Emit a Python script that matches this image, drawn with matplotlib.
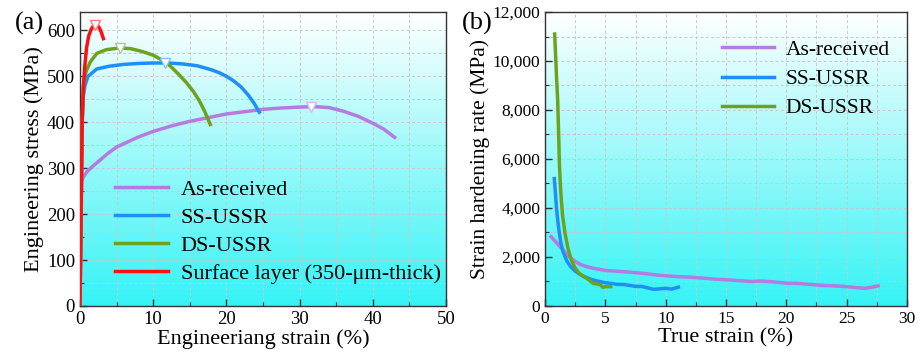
import numpy as np
import matplotlib
matplotlib.use("Agg")
import matplotlib.pyplot as plt
from matplotlib.colors import LinearSegmentedColormap, to_rgb
from matplotlib.ticker import MultipleLocator, FuncFormatter

plt.rcParams['font.family'] = ['Liberation Serif', 'DejaVu Serif']
plt.rcParams['mathtext.fontset'] = 'stix'

# (a) engineering stress-strain curves
ar_strain = [0, 0.12, 0.2, 0.23, 0.5, 1.0, 1.8, 2.7, 3.8, 5, 6.5, 8, 10, 12.5, 15, 17.5, 20,
             22.5, 25, 27.5, 30, 32, 34, 36, 38, 40, 41.5, 43]
ar_stress = [0, 120, 230, 272, 282, 293, 305, 317, 332, 346, 357, 368, 380, 392, 402, 410, 418,
             423, 428, 431, 433, 434, 432, 424, 413, 398, 385, 367]
ss_strain = [0, 0.15, 0.3, 0.45, 0.68, 1.1, 2.3, 4, 6, 8, 10, 12, 14, 16, 18, 19, 20, 21, 22,
             23, 23.8, 24.5]
ss_stress = [0, 200, 400, 455, 480, 500, 516, 522, 526, 528, 529, 529, 527, 523, 514, 508, 500,
             490, 477, 459, 441, 422]
ds_strain = [0, 0.15, 0.3, 0.45, 0.65, 0.9, 1.4, 2.3, 3.6, 5.5, 7, 8.5, 10, 11.5, 12.5, 13.5,
             14.5, 15.5, 16.3, 17, 17.8]
ds_stress = [0, 200, 400, 477, 500, 513, 531, 550, 558, 562, 560, 554, 546, 533, 520, 504,
             487, 467, 447, 425, 395]
sl_strain = [0, 0.15, 0.3, 0.45, 0.65, 0.9, 1.2, 1.5, 1.8, 2.1, 2.4, 2.7, 3.0, 3.2]
sl_stress = [0, 200, 400, 470, 520, 562, 588, 601, 609, 612, 611, 604, 592, 582]

# ultimate tensile strength markers
uts_x = [31.6, 11.6, 5.5, 2.05]
uts_y = [433, 529, 562, 612]

# (b) strain hardening rate
ar_true = [0.5, 1, 1.5, 2, 2.5, 3, 3.5, 4, 5, 6, 7, 8, 9, 10, 11, 12, 13, 14, 15, 16, 17, 18,
           19, 20, 21, 22, 23, 24, 25, 26, 26.5, 27, 27.6]
ar_theta = [2830, 2560, 2280, 2010, 1820, 1680, 1600, 1540, 1450, 1420, 1380, 1340, 1280, 1230,
            1200, 1180, 1140, 1100, 1070, 1040, 1000, 1020, 980, 930, 920, 880, 840, 820, 790,
            740, 720, 760, 820]
ss_true = [0.77, 0.85, 0.95, 1.1, 1.3, 1.5, 1.8, 2.1, 2.5, 3, 3.5, 4, 4.5, 5, 5.5, 6, 6.5, 7,
           7.5, 8, 8.5, 9, 9.5, 10, 10.5, 11.05]
ss_theta = [5200, 4700, 4000, 3300, 2600, 2200, 1850, 1620, 1420, 1260, 1150, 1060, 1000, 950,
            920, 880, 880, 840, 800, 800, 740, 680, 700, 720, 690, 770]
ds_true = [0.8, 0.88, 0.96, 1.05, 1.13, 1.2, 1.3, 1.45, 1.66, 1.9, 2.2, 2.5, 2.8, 3.2, 3.6, 4.0,
           4.3, 4.6, 4.8, 5.0, 5.2, 5.44]
ds_theta = [11100, 10200, 9300, 8400, 7000, 5700, 4700, 3700, 2970, 2350, 1850, 1550, 1350,
            1200, 1080, 920, 900, 860, 760, 790, 790, 790]

c_ar = '#b57be0'
c_ss = '#1e8ff5'
c_ds = '#6da31c'
c_sl = '#ff1010'

bg = LinearSegmentedColormap.from_list('bg', ['#ffffff', '#35f3f5'])


def lighten(c, f=0.5):
    r = np.array(to_rgb(c))
    return tuple(r + (1 - r) * f)


def style_axes(ax):
    ax.imshow(np.linspace(0, 1, 256)[:, None], cmap=bg, aspect='auto',
              extent=[0, 1, 0, 1], transform=ax.transAxes, zorder=0)
    for s in ax.spines.values():
        s.set_color('#333333')
        s.set_linewidth(1.0)
    ax.grid(which='both', color='#c8c8c8', linestyle=(0, (3, 2.5)), linewidth=0.7, zorder=1)
    ax.tick_params(which='both', direction='in', top=False, right=False, colors='#333333',
                   labelcolor='black')
    ax.tick_params(which='major', length=5, width=1.0)
    ax.tick_params(which='minor', length=3, width=0.8)
    ax.set_axisbelow(True)


fig = plt.figure(figsize=(9.18, 3.54), dpi=100)
ax1 = fig.add_axes([0.0871, 0.1356, 0.3987, 0.8305])
ax2 = fig.add_axes([0.5937, 0.1356, 0.3943, 0.8305])

# panel (a)
style_axes(ax1)
lw = 2.5
ax1.plot(ar_strain, ar_stress, color=c_ar, lw=lw, label='As-received', zorder=3)
ax1.plot(ss_strain, ss_stress, color=c_ss, lw=lw, label='SS-USSR', zorder=3)
ax1.plot(ds_strain, ds_stress, color=c_ds, lw=lw, label='DS-USSR', zorder=3)
ax1.plot(sl_strain, sl_stress, color=c_sl, lw=lw, label='Surface layer (350-\u03bcm-thick)', zorder=3)
for xx, yy, cc in zip(uts_x, uts_y, [c_ar, c_ss, c_ds, c_sl]):
    ax1.plot(xx, yy, marker='v', ms=7, mfc='white', mec=lighten(cc, 0.45), mew=1.0, zorder=4)
ax1.set_xlim(0, 50)
ax1.set_ylim(0, 640)
ax1.xaxis.set_major_locator(MultipleLocator(10))
ax1.xaxis.set_minor_locator(MultipleLocator(5))
ax1.yaxis.set_major_locator(MultipleLocator(100))
ax1.yaxis.set_minor_locator(MultipleLocator(50))
ax1.tick_params(labelsize=13.5)
ax1.set_xlabel('Engineeriang strain (%)', fontsize=16, labelpad=1)
ax1.set_ylabel('Engineering stress (MPa)', fontsize=16, labelpad=2)
ax1.legend(loc='upper left', bbox_to_anchor=(0.096, 0.43), frameon=False, fontsize=16,
           handlelength=2.4, handletextpad=0.55, labelspacing=0.33, borderpad=0,
           borderaxespad=0)

# panel (b)
style_axes(ax2)
ax2.plot(ar_true, ar_theta, color=c_ar, lw=lw, label='As-received', zorder=3)
ax2.plot(ss_true, ss_theta, color=c_ss, lw=lw, label='SS-USSR', zorder=3)
ax2.plot(ds_true, ds_theta, color=c_ds, lw=lw, label='DS-USSR', zorder=3)
ax2.set_xlim(0, 30)
ax2.set_ylim(0, 12000)
ax2.xaxis.set_major_locator(MultipleLocator(5))
ax2.xaxis.set_minor_locator(MultipleLocator(2.5))
ax2.yaxis.set_major_locator(MultipleLocator(2000))
ax2.yaxis.set_minor_locator(MultipleLocator(1000))
ax2.yaxis.set_major_formatter(FuncFormatter(lambda v, p: f'{int(v):,}'))
ax2.tick_params(labelsize=12.5)
ax2.set_xlabel('True strain (%)', fontsize=16, labelpad=1)
ax2.set_ylabel('Strain hardening rate (MPa)', fontsize=15.5, labelpad=2)
ax2.legend(loc='upper left', bbox_to_anchor=(0.489, 0.905), frameon=False, fontsize=15.5,
           handlelength=2.4, handletextpad=0.55, labelspacing=0.42, borderpad=0,
           borderaxespad=0)

fig.text(0.016, 0.935, '(a)', fontsize=19, va='center', ha='left')
fig.text(0.503, 0.935, '(b)', fontsize=19, va='center', ha='left')

fig.savefig('out.png', dpi=100)
